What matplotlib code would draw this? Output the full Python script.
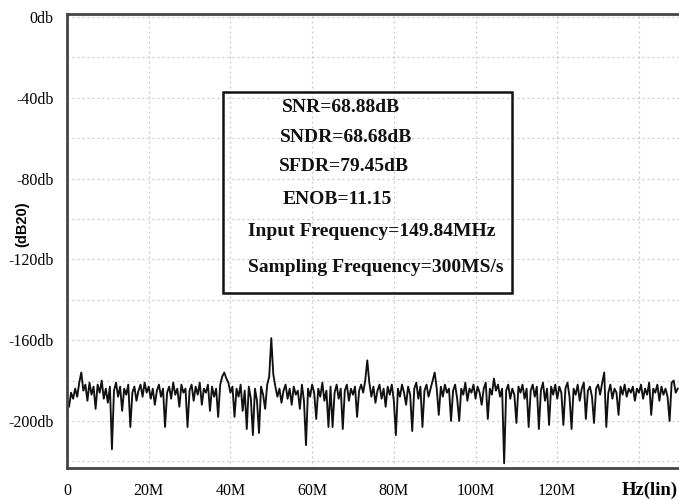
"""FFT spectrum of the ADC output with the performance summary box."""
import numpy as np
import matplotlib
matplotlib.use("Agg")
import matplotlib.pyplot as plt
from matplotlib.patches import Rectangle

SERIF = ["Liberation Serif", "DejaVu Serif"]

# spectrum, one value per 0.5 MHz bin starting at 0 Hz
BIN_MHZ = 0.5
SPECTRUM_DB = [
    -190, -193, -186, -189, -184, -188, -181, -176, -185, -182, -190, -181, -187, -183, -194, -182, -186, -180, -189, -184,
    -191, -183, -214, -185, -181, -188, -183, -195, -184, -187, -182, -203, -186, -183, -190, -185, -182, -188, -181, -186,
    -183, -189, -184, -192, -185, -182, -188, -184, -203, -186, -183, -189, -181, -187, -184, -193, -182, -186, -184, -203,
    -185, -182, -190, -183, -187, -181, -192, -184, -186, -182, -195, -183, -188, -184, -198, -182, -178, -176, -179, -181,
    -186, -183, -198, -184, -188, -182, -195, -185, -204, -183, -189, -207, -184, -190, -206, -183, -187, -194, -182, -178,
    -159, -177, -183, -188, -184, -191, -185, -182, -189, -184, -192, -183, -187, -185, -194, -182, -190, -212, -184, -188,
    -182, -186, -199, -184, -188, -181, -190, -185, -203, -183, -203, -186, -182, -189, -184, -204, -185, -182, -190, -184,
    -187, -183, -198, -185, -182, -186, -180, -170, -181, -188, -183, -191, -185, -182, -189, -184, -193, -183, -187, -182,
    -190, -207, -184, -188, -182, -186, -192, -183, -187, -205, -184, -181, -189, -183, -203, -185, -182, -188, -184, -180,
    -176, -184, -197, -183, -188, -182, -186, -184, -200, -185, -182, -189, -200, -184, -187, -181, -190, -184, -186, -182,
    -189, -183, -186, -192, -184, -181, -199, -184, -187, -179, -185, -182, -188, -184, -221, -185, -182, -189, -184, -187,
    -201, -183, -186, -182, -189, -184, -203, -185, -182, -188, -183, -204, -185, -181, -190, -184, -202, -183, -187, -182,
    -189, -183, -186, -202, -184, -181, -188, -204, -184, -187, -182, -190, -184, -181, -199, -185, -183, -188, -201, -184,
    -182, -187, -181, -176, -203, -186, -182, -189, -184, -186, -197, -183, -187, -182, -188, -184, -186, -183, -190, -184,
    -186, -182, -189, -184, -187, -181, -197, -184, -186, -182, -190, -183, -187, -184, -188, -200, -181, -180, -186, -184,
]

X_TICKS_MHZ = [0, 20, 40, 60, 80, 100, 120]
X_TICK_LABELS = ["0", "20M", "40M", "60M", "80M", "100M", "120M"]
Y_TICKS = [0, -40, -80, -120, -160, -200]
Y_TICK_LABELS = ["0db", "-40db", "-80db", "-120db", "-160db", "-200db"]

SUMMARY = [
    ("SNR=68.88dB", 282, 107),
    ("SNDR=68.68dB", 280, 137),
    ("SFDR=79.45dB", 279, 166),
    ("ENOB=11.15", 283, 200),
    ("Input Frequency=149.84MHz", 248, 232),
    ("Sampling Frequency=300MS/s", 248, 268),
]

W, H = 679, 500
fig = plt.figure(figsize=(W / 100, H / 100), dpi=100)
ax = fig.add_axes([67 / W, 32 / H, 1 - 67 / W, (468 - 14) / H])

freq = np.arange(len(SPECTRUM_DB)) * BIN_MHZ
ax.plot(freq, SPECTRUM_DB, color="#111111", lw=1.35)

ax.set_xlim(0, 149.8)
ax.set_ylim(-223.3, 1.5)
ax.set_xticks(X_TICKS_MHZ)
ax.set_xticklabels(X_TICK_LABELS, family=SERIF, fontsize=11.5)
ax.set_yticks(Y_TICKS)
ax.set_yticklabels(Y_TICK_LABELS, family=SERIF, fontsize=11.5)
ax.set_xticks(np.arange(0, 150, 20), minor=True)
ax.set_yticks(np.arange(-220, 1, 20), minor=True)
ax.tick_params(which="both", length=0)
ax.tick_params(axis="x", pad=11)
ax.tick_params(axis="y", pad=9.5)
ax.grid(True, which="both", color="#c8c8c8", lw=0.9, ls=(0, (1.5, 2.5)))

for side in ("left", "bottom", "top"):
    ax.spines[side].set_linewidth(2)
    ax.spines[side].set_color("#444444")
ax.spines["right"].set_visible(False)

fig.text(22 / W, 1 - 224 / H, "(dB20)", rotation=90, ha="center", va="center",
         fontsize=10.5, fontweight="bold", family=["Liberation Sans", "DejaVu Sans"])
fig.text(650 / W, 1 - 490 / H, "Hz(lin)", ha="center", va="center",
         fontsize=13.5, fontweight="bold", family=SERIF)

# summary box
fig.patches.append(Rectangle((223 / W, 1 - 293 / H), (512 - 223) / W, (293 - 92) / H,
                             transform=fig.transFigure, fill=False, ec="#111111", lw=1.8))
for label, px, py in SUMMARY:
    fig.text(px / W, 1 - py / H, label, ha="left", va="center",
             fontsize=14, fontweight="bold", family=SERIF, color="#111111")

fig.savefig("out.png", dpi=100)
